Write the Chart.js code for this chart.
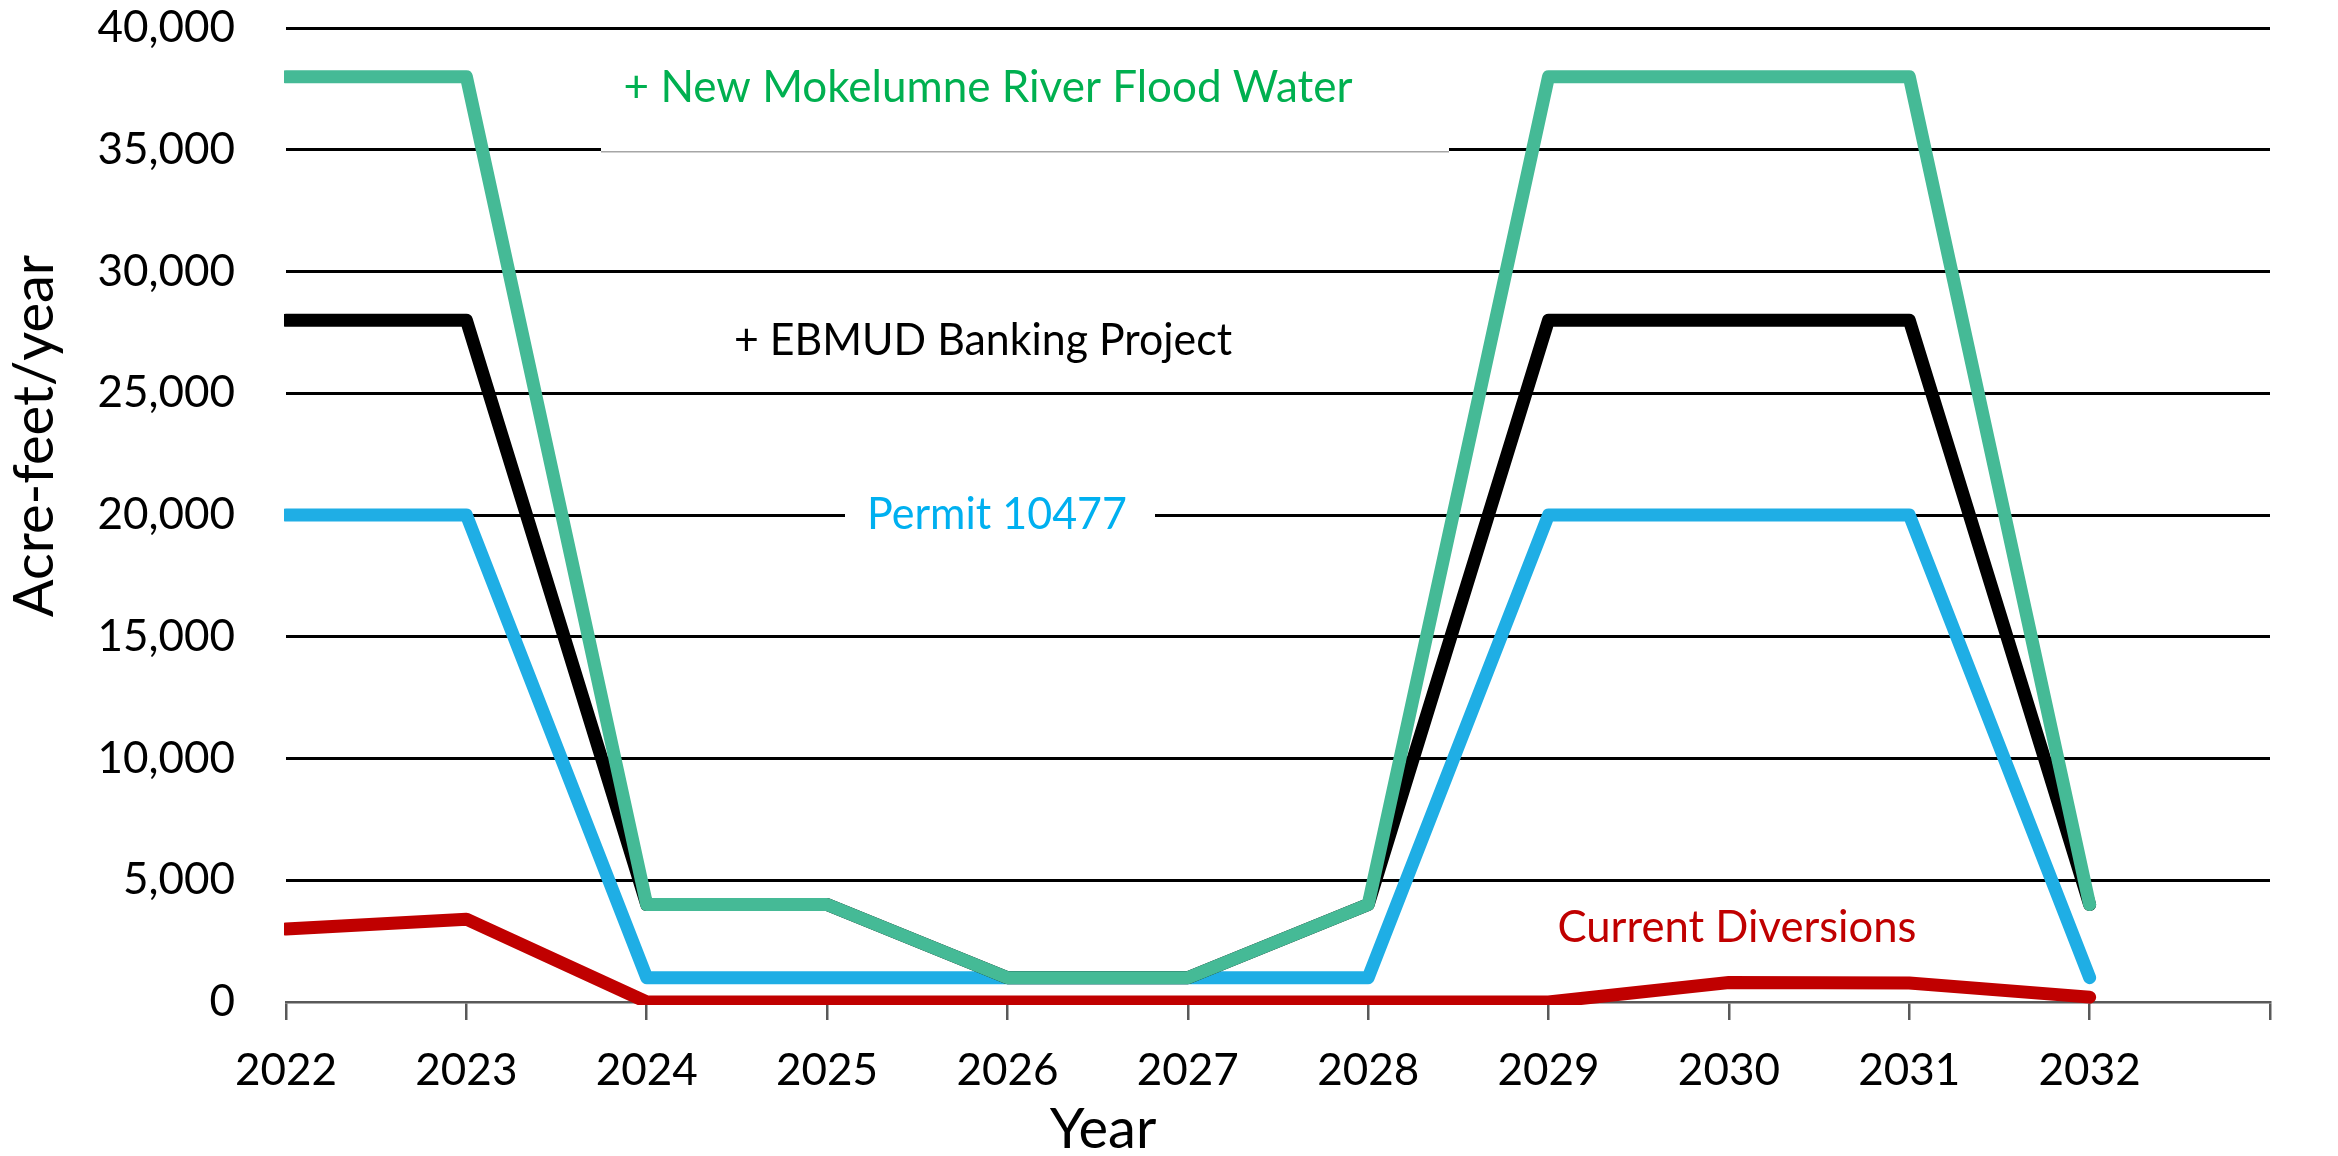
<!DOCTYPE html>
<html><head><meta charset="utf-8">
<script src="https://cdn.jsdelivr.net/npm/chart.js@4.4.1/dist/chart.umd.min.js"></script>
<style>html,body{margin:0;padding:0;background:#fff;}canvas{display:block;}</style>
</head><body>
<canvas id="c" width="2338" height="1156"></canvas>
<script>
// ---- data ----
const years = ['2022','2023','2024','2025','2026','2027','2028','2029','2030','2031','2032',''];
const currentDiversions = [3000, 3400, 0, 0, 0, 0, 0, 0, 800, 780, 200];
const permit10477       = [20000, 20000, 1000, 1000, 1000, 1000, 1000, 20000, 20000, 20000, 1000];
const ebmudBanking      = [28000, 28000, 4000, 4000, 1000, 1000, 4000, 28000, 28000, 28000, 4000];
const mokelumneFlood    = [38000, 38000, 4000, 4000, 1000, 1000, 4000, 38000, 38000, 38000, 4000];
const yTicks = [0, 5000, 10000, 15000, 20000, 25000, 30000, 35000, 40000];
const seriesLabels = ['+ New Mokelumne River Flood Water', '+ EBMUD Banking Project', 'Permit 10477', 'Current Diversions'];
const yTitle = 'Acre-feet/year';
const xTitle = 'Year';

const FONT = 'Lato';
const clipArea = {left: 2, top: 20, right: 20, bottom: 3};

function ds(label, data, color, order) {
  return {label, data, borderColor: color, backgroundColor: color, borderWidth: 13,
    pointRadius: 0, pointHoverRadius: 0, tension: 0, fill: false,
    borderCapStyle: 'round', borderJoinStyle: 'round', clip: clipArea, order};
}

const annotations = {
  id: 'annotations',
  beforeDatasetsDraw(chart) {
    const ctx = chart.ctx;
    const y = chart.scales.y;
    ctx.save();
    ctx.fillStyle = '#fff';
    const y35 = y.getPixelForValue(35000);
    ctx.fillRect(601, y35 - 4, 848, 8);
    ctx.strokeStyle = '#a6a6a6';
    ctx.lineWidth = 1.5;
    ctx.beginPath(); ctx.moveTo(601, y35 + 2); ctx.lineTo(1449, y35 + 2); ctx.stroke();
    const y20 = y.getPixelForValue(20000);
    ctx.fillRect(845, y20 - 4, 310, 8);
    ctx.restore();
  },
  afterDraw(chart) {
    const ctx = chart.ctx;
    ctx.save();
    ctx.textAlign = 'center';
    ctx.textBaseline = 'alphabetic';
    ctx.font = `44px ${FONT}`;
    ctx.fillStyle = '#00B050';
    ctx.fillText(seriesLabels[0], 988, 102, 732);
    ctx.fillStyle = '#000000';
    ctx.fillText(seriesLabels[1], 983, 355, 498);
    ctx.fillStyle = '#00B0F0';
    ctx.fillText(seriesLabels[2], 997, 529, 260);
    ctx.fillStyle = '#C00000';
    ctx.fillText(seriesLabels[3], 1737, 942, 359);
    ctx.fillStyle = '#000';
    ctx.font = `56px ${FONT}`;
    ctx.fillText(xTitle, 1103, 1148);
    ctx.translate(53, 436);
    ctx.rotate(-Math.PI / 2);
    ctx.fillText(yTitle, 0, 0, 373);
    ctx.restore();
  }
};

new Chart(document.getElementById('c'), {
  type: 'line',
  data: {
    labels: years,
    datasets: [
      ds(seriesLabels[0], mokelumneFlood, '#45BA96', 1),
      ds(seriesLabels[1], ebmudBanking, '#000000', 2),
      ds(seriesLabels[2], permit10477, '#1FAEE5', 3),
      ds(seriesLabels[3], currentDiversions, '#C00000', 4)
    ]
  },
  options: {
    responsive: false,
    animation: false,
    events: [],
    layout: {padding: {top: 28, right: 68, left: 0, bottom: 0}},
    plugins: {legend: {display: false}, tooltip: {enabled: false}, title: {display: false}},
    scales: {
      x: {
        type: 'category',
        offset: false,
        grid: {display: true, drawOnChartArea: false, drawTicks: true, tickLength: 18, color: '#595959', lineWidth: 2.5},
        border: {display: true, color: '#595959', width: 2.5},
        ticks: {autoSkip: false, maxRotation: 0, minRotation: 0, padding: 24, color: '#000', font: {family: FONT, size: 44}},
        afterFit(s) { s.height = 154; s.paddingLeft = 0; s.paddingRight = 0; }
      },
      y: {
        min: 0, max: 40000,
        afterBuildTicks(s) { s.ticks = yTicks.map(v => ({value: v})); },
        grid: {drawTicks: false, lineWidth: 3,
          color: c => (c.tick && c.tick.value === 0) ? 'rgba(0,0,0,0)' : '#000'},
        border: {display: false},
        ticks: {padding: 51, color: '#000', font: {family: FONT, size: 44},
          callback: v => v.toLocaleString('en-US')},
        afterFit(s) { s.width = 286; s.paddingTop = 0; s.paddingBottom = 0; }
      }
    }
  },
  plugins: [annotations]
});
</script>
</body></html>
